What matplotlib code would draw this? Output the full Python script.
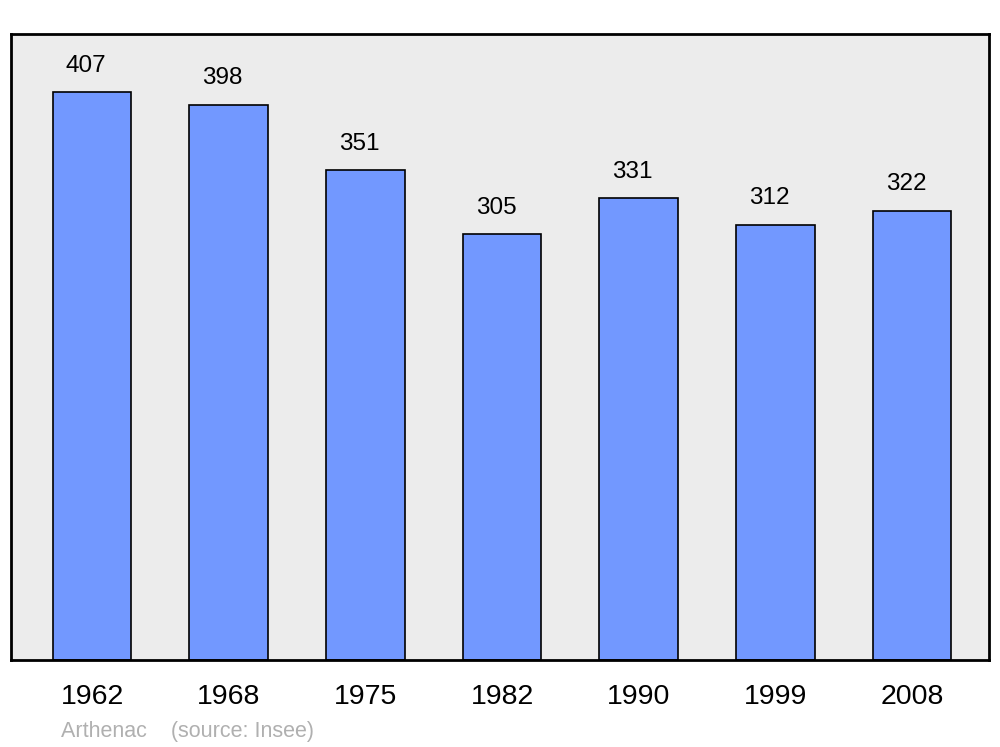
import matplotlib.pyplot as plt

years = ['1962', '1968', '1975', '1982', '1990', '1999', '2008']
population = [407, 398, 351, 305, 331, 312, 322]

plt.rcParams['font.family'] = ['Liberation Sans', 'DejaVu Sans']

fig = plt.figure(figsize=(10, 7.47), dpi=100)
ax = fig.add_axes([0.011, 1 - 660 / 747, 0.978, 626 / 747])
ax.set_facecolor('#ececec')

x = range(len(years))
ax.bar(x, population, width=0.575, color='#7298ff', edgecolor='black', linewidth=1.2, zorder=2)

for i, v in enumerate(population):
    ax.text(i - 0.045, v + 11, str(v), ha='center', va='bottom', fontsize=17.5)

ax.set_xlim(-0.593, 6.563)
ax.set_ylim(0, 448.6)
ax.set_yticks([])
ax.set_xticks(list(x))
ax.set_xticklabels(years, fontsize=20.5)
ax.tick_params(axis='x', length=0, pad=17)
for s in ax.spines.values():
    s.set_linewidth(2)

fig.text(0.061, 1 - 731 / 747, 'Arthenac    (source: Insee)', color='#b0b0b0', fontsize=15.5, va='center')

fig.savefig('out.png', dpi=100)
